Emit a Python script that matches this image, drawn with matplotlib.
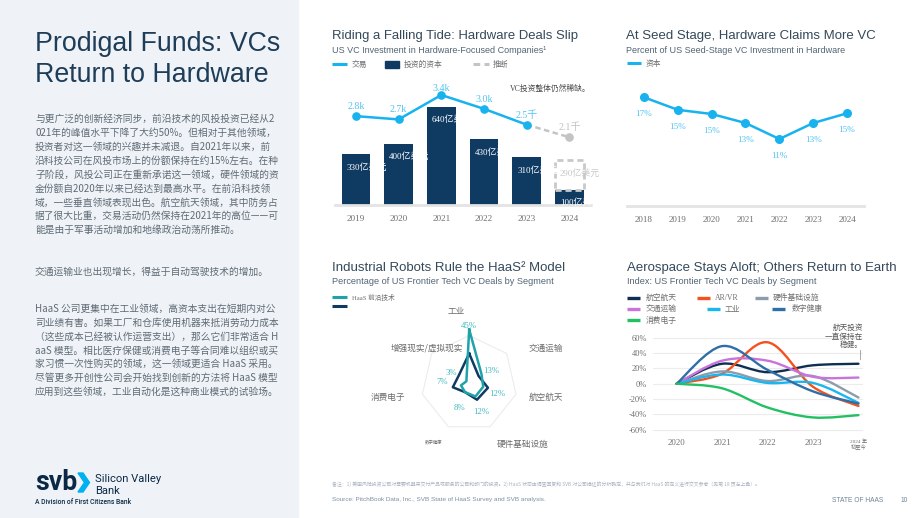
import matplotlib
matplotlib.use('Agg')
import matplotlib.pyplot as plt
import numpy as np
from matplotlib.path import Path
from matplotlib.patches import PathPatch, Rectangle, Polygon
from matplotlib.lines import Line2D

# ---- data ----
years1 = ['2019', '2020', '2021', '2022', '2023', '2024']
capital = [330, 400, 640, 430, 310, 100]          # 亿美元
capital_2024_proj = 290
capital_labels = ['330亿美元', '400亿美元', '640亿美元', '430亿美元', '310亿美元', '100亿美元']
deals = [2.76, 2.66, 3.40, 2.98, 2.50, 2.12]       # 千笔
deal_labels = ['2.8k', '2.7k', '3.4k', '3.0k', '2.5千', '2.1千']

years2 = ['2018', '2019', '2020', '2021', '2022', '2023', '2024']
seed_share = [17.0, 15.2, 14.6, 13.3, 11.0, 13.3, 14.7]
seed_labels = ['17%', '15%', '15%', '13%', '11%', '13%', '15%']

segments = ['工业', '交通运输', '航空航天', '硬件基础设施', '数字健康', '消费电子', '增强现实/虚拟现实']
haas_share = [45, 13, 12, 12, 8, 7, 3]
frontier_share = [25, 10, 16, 15, 8, 14, 11]
haas_labels = ['45%', '13%', '12%', '12%', '8%', '7%', '3%']

years4 = ['2020', '2021', '2022', '2023', '2024 年\n初至今']
aerospace = [0, 26, 15, 24, 26]
arvr = [0, 13, 54, -4, -29]
hw_infra = [0, 16, 3.5, 10, -18]
transport = [0, 30, 30, 9, 8]
industrial = [0, 12, 1, 1, -25]
digital_health = [0, 49, 18, -10, -26]
consumer = [0, -6, -31, -44, -41]

para1 = ['与更广泛的创新经济同步，前沿技术的风投投资已经从2',
         '021年的峰值水平下降了大约50%。但相对于其他领域，',
         '投资者对这一领域的兴趣并未减退。自2021年以来，前',
         '沿科技公司在风投市场上的份额保持在约15%左右。在种',
         '子阶段，风投公司正在重新承诺这一领域，硬件领域的资',
         '金份额自2020年以来已经达到最高水平。在前沿科技领',
         '域，一些垂直领域表现出色。航空航天领域，其中防务占',
         '据了很大比重，交易活动仍然保持在2021年的高位——可',
         '能是由于军事活动增加和地缘政治动荡所推动。']
para2 = ['交通运输业也出现增长，得益于自动驾驶技术的增加。']
para3 = ['HaaS 公司更集中在工业领域，高资本支出在短期内对公',
         '司业绩有害。如果工厂和仓库使用机器来抵消劳动力成本',
         '（这些成本已经被认作运营支出），那么它们非常适合 H',
         'aaS 模型。相比医疗保健或消费电子等合同难以组织或买',
         '家习惯一次性购买的领域，这一领域更适合 HaaS 采用。',
         '尽管更多开创性公司会开始找到创新的方法将 HaaS 模型',
         '应用到这些领域，工业自动化是这种商业模式的试验场。']

# ---- styles ----
W, H = 920, 518
CJK = ['Noto Sans CJK SC', 'DejaVu Sans']
SERIF = ['Liberation Serif', 'Noto Sans CJK SC']
SANS = ['Liberation Sans', 'Noto Sans CJK SC']
NAVY = '#0f3a62'
CYAN = '#18b3ef'
CYAN_TXT = '#52c4f3'
TEAL = '#1fa3a8'
TITLE_C = '#34495a'
SUB_C = '#526575'
GREY_TXT = '#6e6e6e'

fig = plt.figure(figsize=(9.2, 5.18), dpi=100)
renderer = fig.canvas.get_renderer()


def fx(x):
    return x / W


def fy(y):
    return 1 - y / H


def fit(t, width):
    bb = t.get_window_extent(renderer)
    t.set_fontsize(t.get_fontsize() * width / bb.width)
    return t


def ftext(x, y, s, **kw):
    return fig.text(fx(x), fy(y), s, **kw)


def smooth(xs, ys):
    # Catmull-Rom spline drawn as cubic bezier segments
    n = len(xs)
    verts = [(xs[0], ys[0])]
    codes = [Path.MOVETO]
    for i in range(n - 1):
        p0 = max(i - 1, 0)
        p3 = min(i + 2, n - 1)
        c1 = (xs[i] + (xs[i + 1] - xs[p0]) / 6, ys[i] + (ys[i + 1] - ys[p0]) / 6)
        c2 = (xs[i + 1] - (xs[p3] - xs[i]) / 6, ys[i + 1] - (ys[p3] - ys[i]) / 6)
        verts += [c1, c2, (xs[i + 1], ys[i + 1])]
        codes += [Path.CURVE4] * 3
    return Path(verts, codes)


# ---- left panel ----
fig.add_artist(Rectangle((0, 0), fx(298), 1, transform=fig.transFigure,
                         color='#eff3f7', zorder=-10))
t = ftext(35, 51, 'Prodigal Funds: VCs', family=SANS,
          fontsize=19, color='#1e3d58', va='baseline')
fit(t, 245)
ftext(35, 82.5, 'Return to Hardware', family=SANS,
      fontsize=t.get_fontsize(), color='#1e3d58', va='baseline')

for i, line in enumerate(para1):
    ftext(35, 119.3 + 13.84 * i, line, family=CJK, fontsize=7.0, color='#5f6b75', va='center')
for i, line in enumerate(para2):
    ftext(35, 272, line, family=CJK, fontsize=7.0, color='#5f6b75', va='center')
for i, line in enumerate(para3):
    ftext(35, 309.3 + 13.7 * i, line, family=CJK, fontsize=7.0, color='#5f6b75', va='center')

# logo
t = ftext(35, 490, 'svb', family=['Roboto', 'DejaVu Sans'], fontweight='bold',
          fontsize=18, color='#0b2846', va='baseline')
fit(t, 42)
chev = [(78, 473), (83, 473), (89.5, 482.5), (83, 492), (78, 492), (84.5, 482.5)]
fig.add_artist(Polygon([(fx(a), fy(b)) for a, b in chev], closed=True,
                       transform=fig.transFigure, color='#00b0f0'))
t = ftext(95, 481.5, 'Silicon Valley', family=['Roboto', 'DejaVu Sans'],
          fontsize=8, color='#0b2846', va='baseline')
fit(t, 67)
ftext(95, 493.5, 'Bank', family=['Roboto', 'DejaVu Sans'], fontsize=t.get_fontsize(),
      color='#0b2846', va='baseline')
t = ftext(35, 504, 'A Division of First Citizens Bank', family=['Roboto', 'DejaVu Sans'],
          fontweight='medium', fontsize=4.5, color='#0b2846', va='baseline')
fit(t, 96)

# ---- chart titles ----
titles = [
    (332, 36, 'Riding a Falling Tide: Hardware Deals Slip', 247),
    (626, 36, 'At Seed Stage, Hardware Claims More VC', 250),
    (332, 267.7, 'Industrial Robots Rule the HaaS² Model', 233),
    (627, 268.3, 'Aerospace Stays Aloft; Others Return to Earth', 272),
]
subs = [
    (332, 50.7, 'US VC Investment in Hardware-Focused Companies¹', 215),
    (626, 50.7, 'Percent of US Seed-Stage VC Investment in Hardware', 220),
    (332, 281, 'Percentage of US Frontier Tech VC Deals by Segment', 220),
    (627, 281, 'Index: US Frontier Tech VC Deals by Segment', 187),
]
for x, y, s, w in titles:
    fit(ftext(x, y, s, family=SANS, fontsize=10, color=TITLE_C, va='center'), w)
for x, y, s, w in subs:
    fit(ftext(x, y, s, family=SANS, fontsize=7, color=SUB_C, va='center'), w)


def leg_line(x0, x1, y, color, ls='-', lw=2.2):
    fig.add_artist(Line2D([fx(x0), fx(x1)], [fy(y), fy(y)], transform=fig.transFigure,
                          color=color, lw=lw, ls=ls, solid_capstyle='butt'))


def leg_text(x, y, s, size=5.6):
    ftext(x, y, s, family=SERIF, fontsize=size, color=GREY_TXT, va='center')


# ---- chart 1: bars + deals ----
leg_line(332, 347, 64, CYAN)
leg_text(352, 64.5, '交易')
fig.add_artist(Rectangle((fx(385), fy(67.5)), fx(399) - fx(385), fy(61) - fy(67.5),
                         transform=fig.transFigure, color=NAVY))
leg_text(404, 64.5, '投资的资本')
leg_line(473, 489, 64, '#c4c4c4', ls=(0, (2.2, 1.4)))
leg_text(493, 64.5, '推断')

ax1 = fig.add_axes([fx(334.55), fy(205), (590.75 - 334.55) / W, (205 - 80) / H])
x1 = np.arange(len(years1))
bw = 0.67
ax1.bar(x1, capital, width=bw, color=NAVY, zorder=2)
ax1.bar(x1[-1], capital_2024_proj - capital[-1], bottom=capital[-1], width=bw,
        fill=False, edgecolor='#c9c9c9', linestyle=(0, (2.2, 1.4)), linewidth=2, zorder=2)
for i, lab in enumerate(capital_labels):
    ax1.annotate(lab, (x1[i] - bw / 2, capital[i]), xytext=(3.6, -9.4),
                 textcoords='offset points', ha='left', va='center', color='white',
                 fontsize=6.5, family=SERIF, zorder=3)
ax1.annotate('290亿美元', (x1[-1] - bw / 2, capital_2024_proj), xytext=(3.6, -9.4),
             textcoords='offset points', ha='left', va='center', color='#c8c8c8',
             fontsize=6.5, family=SERIF, zorder=3)
ax1.set_xlim(-0.5, 5.5)
ax1.set_ylim(0, 814)
ax1.set_yticks([])
ax1.set_xticks(x1, years1)
ax1.tick_params(axis='x', length=0, pad=7, labelsize=6.6, labelcolor=GREY_TXT)
for lab in ax1.get_xticklabels():
    lab.set_family(SERIF)
for s in ['top', 'left', 'right']:
    ax1.spines[s].set_visible(False)
ax1.spines['bottom'].set_color('#e4e4e4')
ax1.spines['bottom'].set_linewidth(2)
ax1.patch.set_alpha(0)

ax1b = ax1.twinx()
ax1b.plot(x1[4:], deals[4:], color='#c4c4c4', lw=1.8, ls=(0, (2.2, 1.4)), zorder=3)
ax1b.plot(x1[-1], deals[-1], 'o', color='#c4c4c4', ms=5.2, zorder=4)
ax1b.plot(x1[:5], deals[:5], color=CYAN, lw=1.8, marker='o', ms=5.2, zorder=4)
ax1b.set_ylim(0.0667, 3.8545)
ax1b.set_yticks([])
for s in ax1b.spines.values():
    s.set_visible(False)
for i, lab in enumerate(deal_labels):
    off = 4.5 if i == 2 else 7
    ax1b.annotate(lab, (x1[i], deals[i]), xytext=(0, off), textcoords='offset points',
                  ha='center', va='center', fontsize=7.2, family=SERIF,
                  color='#c2c2c2' if i == 5 else CYAN_TXT)
ftext(510, 89, 'VC投资整体仍然稀缺。', family=SERIF, fontsize=5.6, color='#4a4a4a', va='center')

# ---- chart 2: seed share ----
leg_line(626.7, 641, 63.3, CYAN)
leg_text(645.7, 63.8, '资本')
ax2 = fig.add_axes([fx(627), fy(206), 237 / W, 126 / H])
x2 = np.arange(len(years2))
ax2.plot(x2, seed_share, color=CYAN, lw=1.8, marker='o', ms=5.5)
for i, lab in enumerate(seed_labels):
    ax2.annotate(lab, (x2[i], seed_share[i]), xytext=(0, -12.3), textcoords='offset points',
                 ha='center', va='center', fontsize=6.6, family=SERIF, color=CYAN_TXT)
ax2.set_xlim(-0.5, 6.5)
ax2.set_ylim(1.36, 19.49)
ax2.set_yticks([])
ax2.set_xticks(x2, years2)
ax2.tick_params(axis='x', length=0, pad=7, labelsize=6.5, labelcolor=GREY_TXT)
for lab in ax2.get_xticklabels():
    lab.set_family(SERIF)
for s in ['top', 'left', 'right']:
    ax2.spines[s].set_visible(False)
ax2.spines['bottom'].set_color('#e4e4e4')
ax2.spines['bottom'].set_linewidth(2)
ax2.patch.set_alpha(0)

# ---- chart 3: radar ----
leg_line(332, 347, 296.7, TEAL)
leg_text(352.3, 297, 'HaaS 前沿技术', size=4.8)
leg_line(332, 347, 306, NAVY)

cx, cy, R = 469.2, 383.5, 60
ax3 = fig.add_axes([fx(cx - R), fy(cy + R), 2 * R / W, 2 * R / H], projection='polar')
ax3.set_theta_zero_location('N')
ax3.set_theta_direction(-1)
ax3.set_ylim(0, 50)
ax3.grid(False)
ax3.set_xticks([])
ax3.set_yticks([])
ax3.spines['polar'].set_visible(False)
ax3.patch.set_alpha(0)
theta = np.arange(len(segments)) * 2 * np.pi / len(segments)
tc = np.append(theta, theta[0])
ax3.plot(tc, [40] * len(tc), color='#ececec', lw=0.8)
ax3.plot(tc, np.append(frontier_share, frontier_share[0]), color=NAVY, lw=1.8)
ax3.plot(tc, np.append(haas_share, haas_share[0]), color=TEAL, lw=1.8)
lab_off = [(0, 2.2), (7, 2.2), (9.7, -5.3), (4, -11), (-4.1, -11.7), (-13.9, 2.2), (-11, 5.8)]
for i, lab in enumerate(haas_labels):
    ax3.annotate(lab, (theta[i], haas_share[i]), xytext=lab_off[i], textcoords='offset points',
                 ha='center', va='center', fontsize=6.3, family=SERIF, color='#3fb9be',
                 annotation_clip=False)
seg_pos = [(456.7, 312), (545.7, 348.3), (545.7, 397.7), (522.3, 444.3), (433.3, 441.7),
           (388, 397.7), (427.3, 348.3)]
for i, name in enumerate(segments):
    ftext(seg_pos[i][0], seg_pos[i][1], name, family=CJK, ha='center', va='center',
          fontsize=3.2 if i == 4 else 6.2, color='#6a6a6a')

# ---- chart 4: index lines ----
series4 = [
    ('航空航天', aerospace, '#0e2f52', (626.7, 640, 646, 297.7)),
    ('AR/VR', arvr, '#f4511e', (696.7, 710, 715, 297.7)),
    ('硬件基础设施', hw_infra, '#8d9cab', (755, 768.3, 773, 297.7)),
    ('交通运输', transport, '#c874dc', (626.7, 640, 646, 309)),
    ('工业', industrial, '#1ab6f0', (706.7, 720, 725, 309)),
    ('数字健康', digital_health, '#2f6fa8', (771.7, 785, 791.7, 309)),
    ('消费电子', consumer, '#22c063', (626.7, 640, 646, 320)),
]
ax4 = fig.add_axes([fx(653), fy(434), (863 - 653) / W, (434 - 330) / H])
x4 = np.arange(len(years4), dtype=float)
for name, vals, col, (l0, l1, tx, ly) in series4:
    ax4.add_patch(PathPatch(smooth(list(x4), list(vals)), fc='none', ec=col, lw=1.7,
                            capstyle='round'))
    leg_line(l0, l1, ly, col, lw=2.4)
    leg_text(tx, ly + 0.5, name)
ax4.set_xlim(-0.52, 4.1)
ax4.set_ylim((383.7 - 434) / 0.767, (383.7 - 330) / 0.767)
yt = np.arange(-60, 61, 20)
ax4.set_yticks(yt, [f'{v}%' for v in yt])
ax4.set_xticks(x4, years4)
ax4.yaxis.grid(True, color='#ececec', lw=0.8)
ax4.set_axisbelow(True)
ax4.tick_params(axis='y', length=0, pad=4.5, labelsize=6.0, labelcolor=GREY_TXT)
ax4.tick_params(axis='x', length=0, pad=3.5, labelsize=6.3, labelcolor=GREY_TXT)
for lab in ax4.get_xticklabels() + ax4.get_yticklabels():
    lab.set_family(SERIF)
ax4.get_xticklabels()[-1].set_fontsize(3.8)
for s in ax4.spines.values():
    s.set_visible(False)
ax4.patch.set_alpha(0)
for y, s in zip([328, 336.5, 345], ['航天投资', '一直保持在', '稳健。']):
    ftext(863, y, s, family=SERIF, fontsize=5.5, color='#555555', ha='right', va='center')
fig.add_artist(Line2D([fx(860), fx(860)], [fy(350), fy(359)], transform=fig.transFigure,
                      color='#9a9a9a', lw=0.6))

# ---- footer ----
t = ftext(332, 484, '备注：1) 美国风险投资公司对需要机器来交付产品或服务的公司和部门的投资。'
          '2) HaaS 状态由调查回复和 SVB 对公司描述的分析确定，并与我们对 HaaS 的定义进行交叉参考（见第 18 页左上角）。',
          family=CJK, fontsize=3.3, color='#a9b4c0', va='center')
fit(t, 431)
t = ftext(332, 500, 'Source: PitchBook Data, Inc., SVB State of HaaS Survey and SVB analysis.',
          family=SANS, fontsize=4.6, color='#7b8fa6', va='center')
fit(t, 213)
t = ftext(832, 500, 'STATE OF HAAS', family=SANS, fontsize=5, color='#6f8397', va='center')
fit(t, 52)
ftext(901, 500, '10', family=SANS, fontsize=t.get_fontsize(), color='#6f8397', va='center')

fig.savefig('out.png', dpi=100)
